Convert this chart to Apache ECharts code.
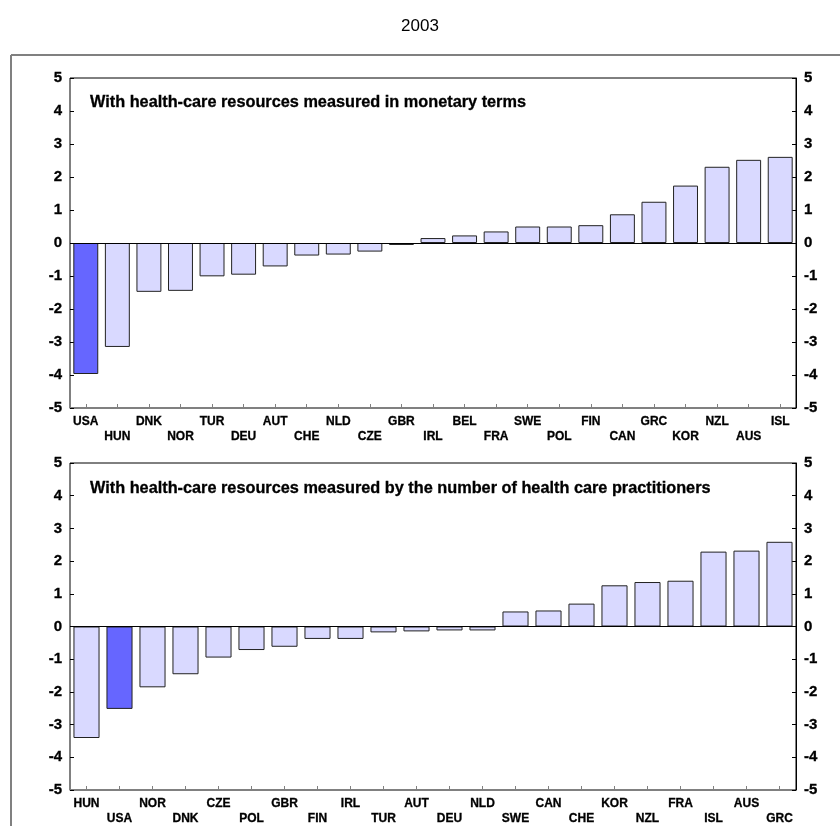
<!DOCTYPE html>
<html>
<head>
<meta charset="utf-8">
<script src="https://cdn.jsdelivr.net/npm/echarts@6/dist/echarts.min.js"></script>
<style>
  html, body { margin: 0; padding: 0; background: #fff; }
  #chart { width: 840px; height: 826px; }
</style>
</head>
<body>
<div id="chart"></div>
<script>
// Panel 1: health-care resources measured in monetary terms
const countriesMonetary = ['USA','HUN','DNK','NOR','TUR','DEU','AUT','CHE','NLD','CZE','GBR',
  'IRL','BEL','FRA','SWE','POL','FIN','CAN','GRC','KOR','NZL','AUS','ISL'];
const valuesMonetary = [-3.97,-3.15,-1.48,-1.45,-1.01,-0.96,-0.71,-0.38,-0.35,-0.26,-0.06,
  0.15,0.23,0.35,0.50,0.50,0.54,0.87,1.25,1.74,2.31,2.52,2.61];

// Panel 2: health-care resources measured by number of practitioners
const countriesPractitioners = ['HUN','USA','NOR','DNK','CZE','POL','GBR','FIN','IRL','TUR','AUT',
  'DEU','NLD','SWE','CAN','CHE','KOR','NZL','FRA','ISL','AUS','GRC'];
const valuesPractitioners = [-3.41,-2.52,-1.86,-1.46,-0.95,-0.72,-0.62,-0.38,-0.38,-0.18,-0.15,
  -0.12,-0.12,0.46,0.49,0.70,1.26,1.36,1.40,2.29,2.32,2.59];

const yTicks = { min: -5, max: 5, interval: 1 };
const highlighted = 'USA';
const panelTitles = [
  'With health-care resources measured in monetary terms',
  'With health-care resources measured by the number of health care practitioners'
];
const chartTitle = '2003';

const FONT = '"Liberation Sans", Arial, sans-serif';
const BAR = '#D9D9FF';
const BAR_HI = '#6666FF';

const chart = echarts.init(document.getElementById('chart'));

const grids = [
  { left: 70, right: 44, top: 78, height: 330 },
  { left: 70, right: 44, top: 463, height: 331 }
];

function xAxisFor(gridIndex, cats) {
  return {
    type: 'category', gridIndex: gridIndex, data: cats,
    axisLine: { show: true, onZero: false, lineStyle: { color: '#808080', width: 1 } },
    axisTick: { show: true, inside: true, alignWithLabel: true, length: 4, lineStyle: { color: '#808080' } },
    axisLabel: {
      interval: 0, margin: 6, fontFamily: FONT, fontWeight: 'bold', fontSize: 12, color: '#000',
      lineHeight: 15, textBorderColor: '#000', textBorderWidth: 0.3,
      formatter: function (v, i) { return i % 2 ? '\n' + v : v; }
    },
    splitLine: { show: false }
  };
}

function yAxisFor(gridIndex, pos) {
  return {
    type: 'value', gridIndex: gridIndex, position: pos,
    min: yTicks.min, max: yTicks.max, interval: yTicks.interval,
    axisLine: { show: true, lineStyle: { color: pos === 'left' ? '#808080' : '#000', width: 1 } },
    axisTick: { show: true, inside: true, length: 4, lineStyle: { color: '#000' } },
    axisLabel: { fontFamily: FONT, fontWeight: 'bold', fontSize: 15, color: '#000', margin: 8,
      textBorderColor: '#000', textBorderWidth: 0.3 },
    splitLine: { show: false }
  };
}

function barSeries(idx, cats, vals) {
  return {
    type: 'bar', xAxisIndex: idx, yAxisIndex: idx * 2,
    barCategoryGap: '21%',
    data: vals.map(function (v, i) {
      return {
        value: v,
        itemStyle: { color: cats[i] === highlighted ? BAR_HI : BAR, borderColor: '#222', borderWidth: 1 }
      };
    }),
    markLine: {
      silent: true, symbol: 'none', label: { show: false },
      lineStyle: { color: '#000', width: 1, type: 'solid' },
      data: [{ yAxis: 0 }]
    },
    animation: false
  };
}

const subStyle = { fontFamily: FONT, fontWeight: 'bold', fontSize: 16.3, color: '#000',
  textBorderColor: '#000', textBorderWidth: 0.3 };

const option = {
  animation: false,
  backgroundColor: '#fff',
  title: [
    { text: chartTitle, left: 'center', top: 18, padding: 0,
      textStyle: { fontFamily: FONT, fontWeight: 'normal', fontSize: 17, color: '#000' } },
    { text: panelTitles[0], left: 90, top: 95, padding: 0, textStyle: subStyle },
    { text: panelTitles[1], left: 90, top: 481, padding: 0, textStyle: subStyle }
  ],
  grid: grids.map(function (g) {
    return Object.assign({ show: true, borderColor: '#000', borderWidth: 1, backgroundColor: 'transparent' }, g);
  }),
  xAxis: [xAxisFor(0, countriesMonetary), xAxisFor(1, countriesPractitioners)],
  yAxis: [yAxisFor(0, 'left'), yAxisFor(0, 'right'), yAxisFor(1, 'left'), yAxisFor(1, 'right')],
  series: [
    barSeries(0, countriesMonetary, valuesMonetary),
    barSeries(1, countriesPractitioners, valuesPractitioners)
  ],
  graphic: [
    { type: 'line', shape: { x1: 11, y1: 55, x2: 840, y2: 55 }, style: { stroke: '#808080', lineWidth: 2 } },
    { type: 'line', shape: { x1: 11, y1: 55, x2: 11, y2: 826 }, style: { stroke: '#808080', lineWidth: 2 } }
  ]
};

chart.setOption(option);
</script>
</body>
</html>
